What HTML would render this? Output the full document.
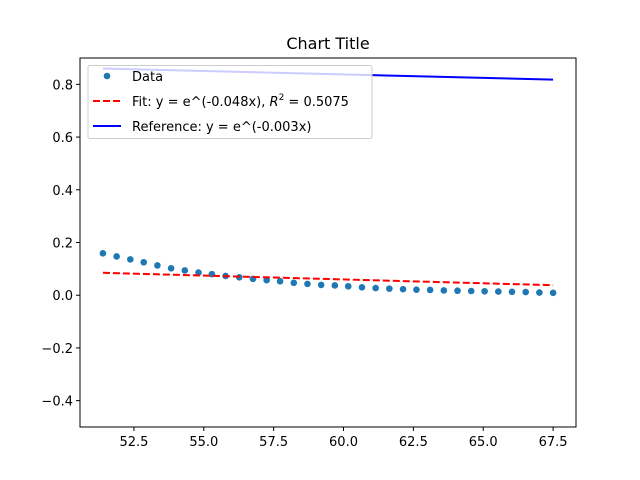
<!DOCTYPE html>
<html><head><meta charset="utf-8"><style>body{margin:0;background:#fff}svg{display:block;font-family:"DejaVu Sans","Liberation Sans",sans-serif}</style></head>
<body>
<svg id="c" width="640" height="480"></svg>
<script>
const xs=[51.39,51.88,52.37,52.85,53.34,53.83,54.32,54.81,55.29,55.78,56.27,56.76,57.25,57.73,58.22,58.71,59.2,59.69,60.17,60.66,61.15,61.64,62.13,62.61,63.1,63.59,64.08,64.57,65.05,65.54,66.03,66.52,67.01,67.5];
const ys=[0.159,0.147,0.136,0.125,0.113,0.102,0.094,0.086,0.080,0.073,0.068,0.062,0.057,0.053,0.047,0.043,0.039,0.037,0.034,0.030,0.027,0.025,0.023,0.021,0.020,0.018,0.017,0.016,0.015,0.014,0.013,0.012,0.010,0.009];
const fitK=[-0.048,0.085,0.038];
const refEnds=[0.860,0.818];
const xTicks=[52.5,55.0,57.5,60.0,62.5,65.0,67.5];
const yTicks=[-0.4,-0.2,0.0,0.2,0.4,0.6,0.8];
const L=80,R=576,T=58,B=427,x0=50.57,x1=68.32,y0=-0.5,y1=0.9;
const X=v=>L+(v-x0)/(x1-x0)*(R-L), Y=v=>B-(v-y0)/(y1-y0)*(B-T);
const s=document.getElementById('c'),NS='http://www.w3.org/2000/svg';
function el(t,a,p){const e=document.createElementNS(NS,t);for(const k in a)e.setAttribute(k,a[k]);(p||s).appendChild(e);return e;}
let g=el('g',{});


xTicks.forEach(v=>{el('line',{x1:X(v),x2:X(v),y1:B,y2:B+4,stroke:'#000'},g);const t=el('text',{x:X(v),y:B+19,'font-size':13,'text-anchor':'middle'},g);t.textContent=v.toFixed(1);});
g=el('g',{});


yTicks.forEach(v=>{el('line',{x1:L-4,x2:L,y1:Y(v),y2:Y(v),stroke:'#000'},g);const t=el('text',{x:L-7,y:Y(v)+5,'font-size':13,'text-anchor':'end'},g);t.textContent=(v<0?'\u2212'+(-v).toFixed(1):v.toFixed(1));});
g=el('g',{});


xs.forEach((v,i)=>{const c=el('circle',{cx:X(v),cy:Y(ys[i]),r:3.3,fill:'#1f77b4'},g);});
let f=el('line',{x1:X(xs[0]),y1:Y(fitK[1]),x2:X(xs[xs.length-1]),y2:Y(fitK[2]),stroke:'red','stroke-width':2,'stroke-dasharray':'7,3'});

let r=el('line',{x1:X(xs[0]),y1:Y(refEnds[0]),x2:X(xs[xs.length-1]),y2:Y(refEnds[1]),stroke:'blue','stroke-width':2});

let fr=el('rect',{x:L,y:T,width:R-L,height:B-T,fill:'none',stroke:'#000','stroke-width':1});

let tt=el('text',{x:(L+R)/2,y:49,'font-size':16,'text-anchor':'middle'});tt.textContent='Chart Title';

g=el('g',{});


el('rect',{x:88,y:65.5,width:284,height:73,rx:2,fill:'#fff','fill-opacity':0.8,stroke:'#ccc'},g);
el('circle',{cx:107,cy:76,r:3.3,fill:'#1f77b4'},g);
el('line',{x1:93,x2:121,y1:101,y2:101,stroke:'red','stroke-width':2,'stroke-dasharray':'7,3'},g);
el('line',{x1:93,x2:121,y1:126,y2:126,stroke:'blue','stroke-width':2},g);
let t1=el('text',{x:132,y:81,'font-size':13},g);t1.textContent='Data';
let t2=el('text',{x:132,y:106,'font-size':13},g);t2.innerHTML='Fit: y = e^(-0.048x), <tspan font-style="italic">R</tspan><tspan font-size="9" dy="-6">2</tspan><tspan dy="6"> = 0.5075</tspan>';
let t3=el('text',{x:132,y:131,'font-size':13},g);t3.textContent='Reference: y = e^(-0.003x)';
</script>
</body></html>
